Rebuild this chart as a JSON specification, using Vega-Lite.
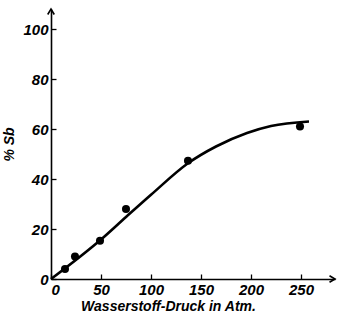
{
  "$schema": "https://vega.github.io/schema/vega-lite/v6.json",
  "width": 284,
  "height": 270,
  "autosize": {"type": "none"},
  "padding": {"left": 51, "top": 9, "right": 5, "bottom": 44},
  "background": "white",
  "config": {
    "view": {"stroke": null},
    "axis": {
      "grid": false,
      "domainColor": "black",
      "domainWidth": 1.6,
      "tickColor": "black",
      "tickWidth": 1.3,
      "labelFont": "Liberation Sans",
      "labelFontStyle": "italic",
      "labelFontWeight": "bold",
      "labelFontSize": 15,
      "labelColor": "black",
      "titleFont": "Liberation Sans",
      "titleFontStyle": "italic",
      "titleFontWeight": "bold",
      "titleFontSize": 14,
      "titleColor": "black"
    }
  },
  "datasets": {
    "points": [
      {"p": 14, "sb": 4},
      {"p": 24, "sb": 9},
      {"p": 49, "sb": 15.3},
      {"p": 75, "sb": 28},
      {"p": 137, "sb": 47.3},
      {"p": 249, "sb": 61}
    ],
    "curve": [
      {"p": 0, "sb": 0},
      {"p": 50, "sb": 15.8},
      {"p": 75, "sb": 24.8},
      {"p": 100, "sb": 33.7},
      {"p": 137, "sb": 46.3},
      {"p": 165, "sb": 53},
      {"p": 196, "sb": 58.4},
      {"p": 220, "sb": 61.2},
      {"p": 258, "sb": 63}
    ],
    "arrows": [
      {"p": 284, "sb": 0, "angle": 0},
      {"p": 0, "sb": 108, "angle": 270}
    ]
  },
  "layer": [
    {
      "data": {"name": "curve"},
      "mark": {"type": "line", "color": "black", "strokeWidth": 2.6, "interpolate": "monotone"},
      "encoding": {
        "x": {
          "field": "p", "type": "quantitative",
          "scale": {"domain": [0, 284], "nice": false},
          "axis": {"values": [0, 50, 100, 150, 200, 250], "tickSize": -5, "labelPadding": 8, "title": "Wasserstoff-Druck in Atm.", "titleX": 117, "titleAlign": "center", "titlePadding": 2}
        },
        "y": {
          "field": "sb", "type": "quantitative",
          "scale": {"domain": [0, 108], "nice": false},
          "axis": {"values": [0, 20, 40, 60, 80, 100], "tickSize": -5, "labelPadding": 8, "title": "% Sb", "titlePadding": 6}
        }
      }
    },
    {
      "data": {"name": "points"},
      "mark": {"type": "point", "filled": true, "color": "black", "size": 65, "opacity": 1},
      "encoding": {
        "x": {"field": "p", "type": "quantitative"},
        "y": {"field": "sb", "type": "quantitative"}
      }
    },
    {
      "data": {"name": "arrows"},
      "mark": {"type": "point", "shape": "M-1,-0.6L0,0L-1,0.6", "filled": false, "color": "black", "strokeWidth": 1.6, "size": 120, "opacity": 1},
      "encoding": {
        "x": {"field": "p", "type": "quantitative"},
        "y": {"field": "sb", "type": "quantitative"},
        "angle": {"field": "angle", "type": "quantitative", "scale": null}
      }
    }
  ]
}
